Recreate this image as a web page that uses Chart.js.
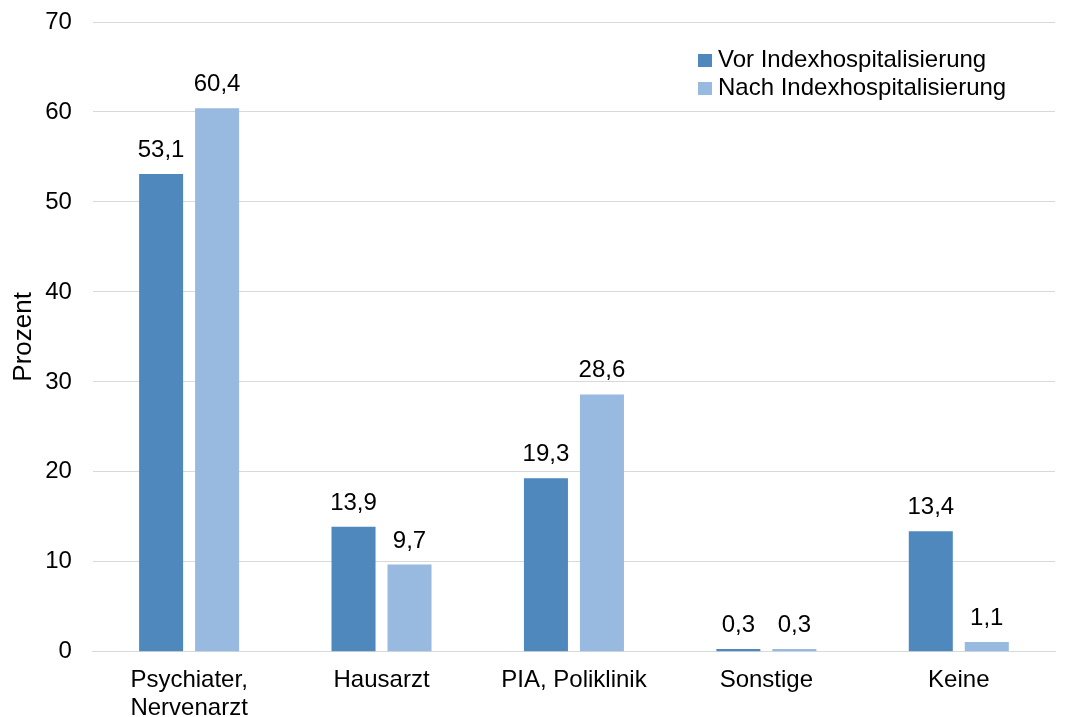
<!DOCTYPE html>
<html>
<head>
<meta charset="utf-8">
<script src="https://cdn.jsdelivr.net/npm/chart.js@4"></script>
<style>
  body { margin: 0; background: #fff; }
  #wrap { width: 1067px; height: 717px; }
</style>
</head>
<body>
<div id="wrap"><canvas id="myChart" width="1067" height="717"></canvas></div>
<script>
const categories = [['Psychiater,', 'Nervenarzt'], 'Hausarzt', 'PIA, Poliklinik', 'Sonstige', 'Keine'];
const vorValues = [53.1, 13.9, 19.3, 0.3, 13.4];
const nachValues = [60.4, 9.7, 28.6, 0.3, 1.1];
const seriesNames = ['Vor Indexhospitalisierung', 'Nach Indexhospitalisierung'];
const seriesColors = ['#4f88bd', '#98b9e0'];

const FONT = 'Liberation Sans, Arial, sans-serif';

// value labels above bars, German decimal comma
const valueLabels = {
    id: 'valueLabels',
    afterDatasetsDraw(chart) {
        const ctx = chart.ctx;
        ctx.save();
        ctx.font = '24px ' + FONT;
        ctx.fillStyle = '#000';
        ctx.textAlign = 'center';
        ctx.textBaseline = 'alphabetic';
        chart.data.datasets.forEach((ds, i) => {
            chart.getDatasetMeta(i).data.forEach((bar, j) => {
                const txt = ds.data[j].toFixed(1).replace('.', ',');
                ctx.fillText(txt, bar.x, bar.y - 17);
            });
        });
        ctx.restore();
    }
};

// legend drawn inside the plot, top right
const insideLegend = {
    id: 'insideLegend',
    afterDraw(chart) {
        const ctx = chart.ctx;
        ctx.save();
        ctx.font = '24px ' + FONT;
        ctx.textBaseline = 'alphabetic';
        chart.data.datasets.forEach((ds, i) => {
            const y = 67 + i * 28;
            ctx.fillStyle = ds.backgroundColor;
            ctx.fillRect(698, y - 13, 14, 13);
            ctx.fillStyle = '#000';
            ctx.fillText(ds.label, 718, y);
        });
        ctx.restore();
    }
};

const data = {
    labels: categories,
    datasets: [
        { label: seriesNames[0], data: vorValues, backgroundColor: seriesColors[0] },
        { label: seriesNames[1], data: nachValues, backgroundColor: seriesColors[1] }
    ]
};

const config = {
    type: 'bar',
    data: data,
    options: {
        responsive: false,
        animation: false,
        categoryPercentage: 0.582,
        barPercentage: 0.786,
        layout: { padding: { top: 22, right: 12, bottom: -12, left: 0 } },
        plugins: {
            legend: { display: false },
            tooltip: { enabled: false }
        },
        scales: {
            x: {
                grid: { display: false },
                border: { color: '#d9d9d9' },
                ticks: { color: '#000', font: { size: 24, family: FONT, lineHeight: 1.15 }, padding: 7, maxRotation: 0, autoSkip: false }
            },
            y: {
                min: 0,
                max: 70,
                ticks: { stepSize: 10, color: '#000', font: { size: 24, family: FONT }, padding: 0 },
                grid: { color: '#d9d9d9', drawTicks: true, tickLength: 21, tickColor: 'rgba(0,0,0,0)' },
                border: { display: false },
                title: { display: true, text: 'Prozent', color: '#000', font: { size: 26, family: FONT, lineHeight: 1.2 }, padding: { top: 8, bottom: 6 } }
            }
        }
    },
    plugins: [valueLabels, insideLegend]
};

// Render the chart
const myChart = new Chart(document.getElementById('myChart'), config);
</script>
</body>
</html>
